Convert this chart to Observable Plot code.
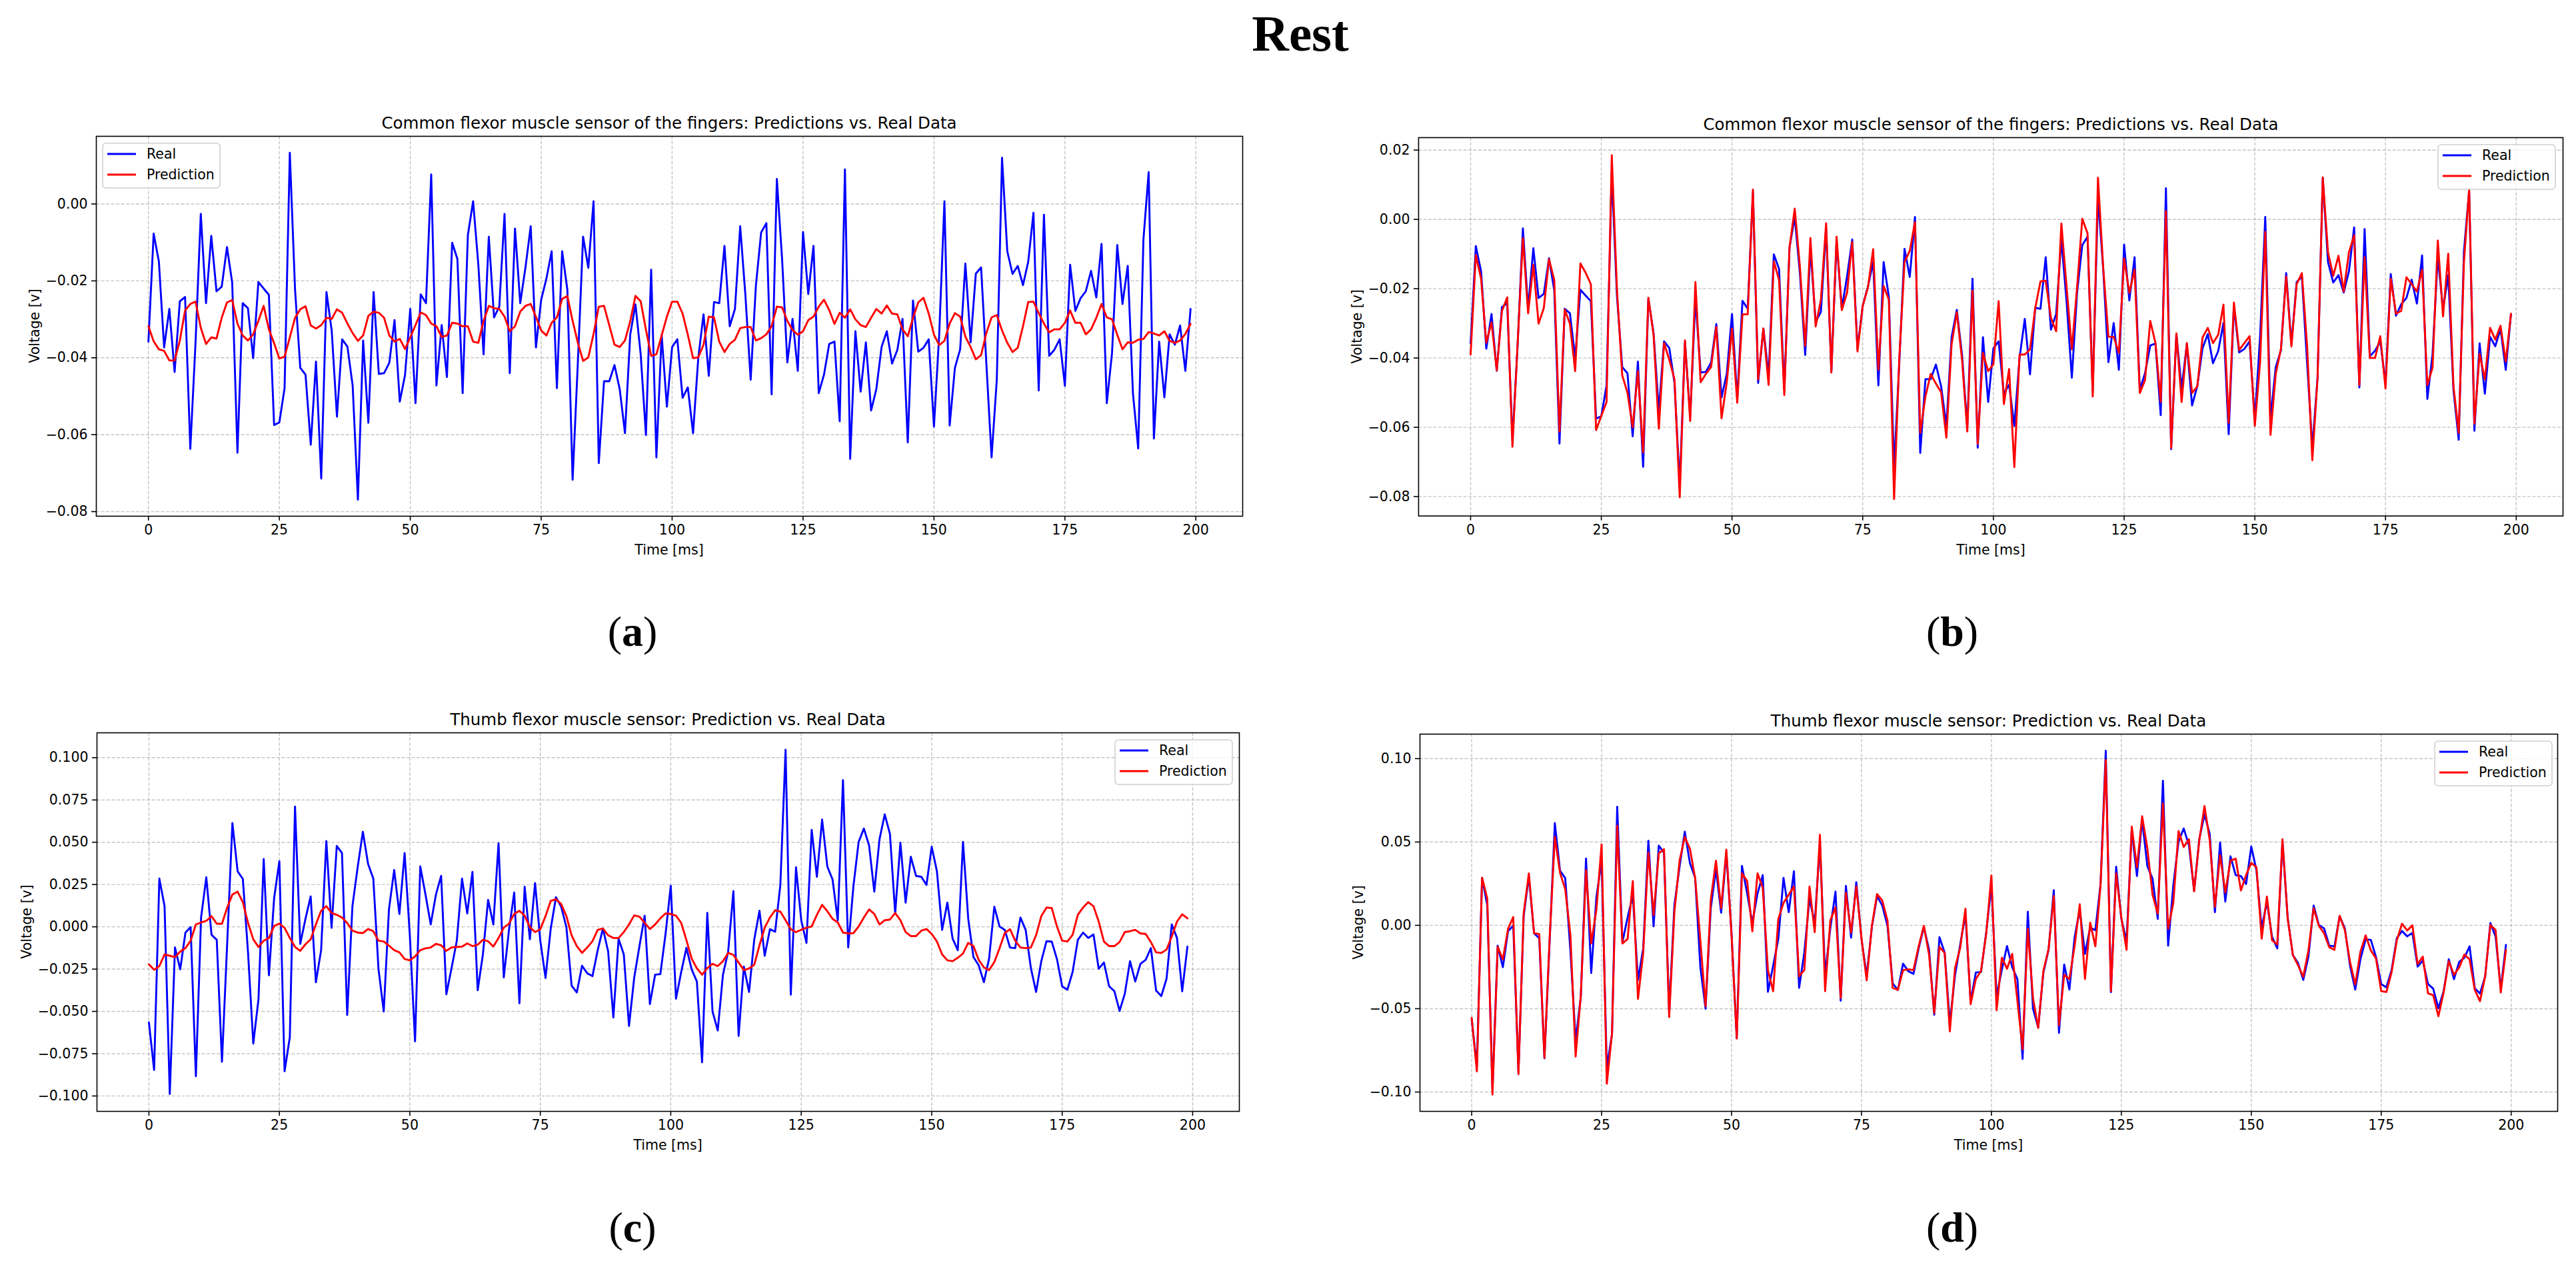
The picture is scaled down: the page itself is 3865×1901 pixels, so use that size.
<!DOCTYPE html>
<html><head><meta charset="utf-8">
<script src="https://cdn.jsdelivr.net/npm/d3@7"></script>
<script src="https://cdn.jsdelivr.net/npm/@observablehq/plot@0.6"></script>
<style>
body{margin:0;background:#fff;}
#root{position:relative;width:3865px;height:1901px;overflow:hidden;background:#fff;}
.panel{position:absolute;}
.panel svg{overflow:visible;}
#overlay{position:absolute;left:0;top:0;pointer-events:none;}
</style></head><body><div id="root"></div>
<script>
// ---- data ----
const xTicks = [0, 25, 50, 75, 100, 125, 150, 175, 200];
const yTicksA = [0.00, -0.02, -0.04, -0.06, -0.08];
const yTicksB = [0.02, 0.00, -0.02, -0.04, -0.06, -0.08];
const yTicksC = [0.100, 0.075, 0.050, 0.025, 0.000, -0.025, -0.050, -0.075, -0.100];
const yTicksD = [0.10, 0.05, 0.00, -0.05, -0.10];
const seriesNames = ["Real", "Prediction"];
const titleFingers = "Common flexor muscle sensor of the fingers: Predictions vs. Real Data";
const titleThumb = "Thumb flexor muscle sensor: Prediction vs. Real Data";

const realA = [
-0.0358,-0.0077,-0.015,-0.0373,-0.0273,-0.0437,-0.0253,-0.0242,-0.0637,-0.036,
-0.0026,-0.0258,-0.0083,-0.0227,-0.0215,-0.0112,-0.0205,-0.0647,-0.0258,-0.0271,
-0.0401,-0.0203,-0.022,-0.0236,-0.0575,-0.0568,-0.0479,0.0133,-0.0223,-0.0426,
-0.0444,-0.0626,-0.041,-0.0714,-0.0229,-0.0329,-0.0553,-0.0352,-0.0371,-0.0472,
-0.0769,-0.0355,-0.0569,-0.0229,-0.0442,-0.044,-0.0413,-0.0302,-0.0514,-0.0445,
-0.0273,-0.0518,-0.0235,-0.0258,0.0077,-0.0472,-0.0315,-0.045,-0.0101,-0.0143,
-0.0492,-0.0081,0.0007,-0.0158,-0.0391,-0.0085,-0.0295,-0.0267,-0.0026,-0.044,
-0.0064,-0.0258,-0.0165,-0.0058,-0.0373,-0.0249,-0.0194,-0.0123,-0.0479,-0.0123,
-0.0223,-0.0717,-0.0413,-0.0085,-0.0166,0.0007,-0.0674,-0.0461,-0.0461,-0.0419,
-0.0482,-0.0596,-0.034,-0.0261,-0.0391,-0.0601,-0.0171,-0.0659,-0.034,-0.0527,
-0.0372,-0.0352,-0.0504,-0.0477,-0.0596,-0.04,-0.0287,-0.0447,-0.0255,-0.0258,
-0.0109,-0.0318,-0.0273,-0.0058,-0.0238,-0.0457,-0.0212,-0.0074,-0.005,-0.0495,
0.0065,-0.0143,-0.0412,-0.0299,-0.0434,-0.0073,-0.0234,-0.0109,-0.0492,-0.0444,
-0.0364,-0.0358,-0.0565,0.009,-0.0663,-0.0331,-0.0488,-0.036,-0.0537,-0.0481,
-0.0372,-0.0331,-0.0415,-0.038,-0.0299,-0.062,-0.0251,-0.0384,-0.0374,-0.0352,
-0.0579,-0.034,0.0007,-0.0576,-0.0426,-0.0378,-0.0155,-0.036,-0.0181,-0.0165,
-0.0413,-0.0659,-0.0457,0.012,-0.0123,-0.0182,-0.0161,-0.0211,-0.015,-0.0023,
-0.0485,-0.0028,-0.0395,-0.0379,-0.0352,-0.0473,-0.0158,-0.0278,-0.0245,-0.0227,
-0.0174,-0.0243,-0.0104,-0.0518,-0.0388,-0.0107,-0.026,-0.0161,-0.0493,-0.0636,
-0.0092,0.0083,-0.061,-0.0358,-0.0503,-0.0339,-0.0366,-0.0316,-0.0434,-0.0273];

const predA = [
-0.0318,-0.0357,-0.0378,-0.0382,-0.0407,-0.0407,-0.0355,-0.0277,-0.026,-0.0254,
-0.0322,-0.0364,-0.0347,-0.035,-0.0296,-0.0256,-0.025,-0.0311,-0.0342,-0.0355,
-0.0339,-0.0304,-0.0265,-0.0326,-0.0362,-0.0402,-0.0397,-0.0347,-0.0296,-0.0274,
-0.0266,-0.0316,-0.0324,-0.0315,-0.0296,-0.0299,-0.0274,-0.0283,-0.0311,-0.0336,
-0.0356,-0.0342,-0.0291,-0.028,-0.0283,-0.0296,-0.0342,-0.0358,-0.0351,-0.0377,
-0.0347,-0.0315,-0.0282,-0.0289,-0.0311,-0.0318,-0.0346,-0.0342,-0.0309,-0.0311,
-0.0318,-0.0318,-0.0358,-0.0361,-0.0304,-0.0265,-0.0271,-0.0273,-0.0293,-0.0331,
-0.0318,-0.028,-0.0265,-0.026,-0.0294,-0.0329,-0.0342,-0.0309,-0.0295,-0.0247,
-0.0239,-0.0304,-0.0361,-0.0408,-0.0399,-0.0338,-0.0267,-0.0265,-0.0315,-0.0366,
-0.0372,-0.0355,-0.0305,-0.0239,-0.0253,-0.0327,-0.0395,-0.0391,-0.0342,-0.0293,
-0.0254,-0.0254,-0.0285,-0.034,-0.0401,-0.0399,-0.0366,-0.0293,-0.0295,-0.0358,
-0.0385,-0.0364,-0.0353,-0.0323,-0.032,-0.032,-0.0355,-0.0349,-0.0339,-0.0318,
-0.0267,-0.0269,-0.0304,-0.0328,-0.034,-0.0331,-0.0302,-0.0293,-0.0267,-0.0249,
-0.0276,-0.0312,-0.0283,-0.0296,-0.0274,-0.03,-0.0315,-0.032,-0.0296,-0.0273,
-0.0285,-0.0264,-0.0285,-0.0287,-0.0326,-0.0344,-0.0296,-0.0256,-0.0244,-0.0285,
-0.034,-0.0367,-0.0356,-0.0311,-0.0284,-0.0293,-0.0345,-0.0372,-0.0404,-0.0393,
-0.0336,-0.0295,-0.0289,-0.0329,-0.0361,-0.0385,-0.0374,-0.0318,-0.0255,-0.0254,
-0.0284,-0.0311,-0.0334,-0.0326,-0.0326,-0.0309,-0.0277,-0.0309,-0.0309,-0.0339,
-0.0326,-0.0296,-0.026,-0.0295,-0.03,-0.034,-0.0378,-0.036,-0.0361,-0.0353,
-0.0351,-0.0333,-0.0337,-0.0342,-0.0331,-0.0356,-0.0361,-0.0355,-0.0338,-0.0312];

const predB = [
-0.039,-0.0103,-0.0171,-0.0356,-0.0297,-0.0436,-0.0264,-0.0225,-0.0656,-0.0357,
-0.0054,-0.0271,-0.0131,-0.0301,-0.0256,-0.0115,-0.0175,-0.0612,-0.026,-0.0301,
-0.0438,-0.0127,-0.0154,-0.0187,-0.0608,-0.0567,-0.0527,0.0185,-0.0204,-0.045,
-0.05,-0.06,-0.0438,-0.0672,-0.0226,-0.0334,-0.0604,-0.0357,-0.0405,-0.0462,
-0.0802,-0.0349,-0.0582,-0.0181,-0.047,-0.0446,-0.0426,-0.031,-0.0574,-0.047,
-0.0315,-0.0529,-0.0274,-0.0274,0.0086,-0.0462,-0.0315,-0.0478,-0.0121,-0.0175,
-0.0507,-0.0081,0.0031,-0.0139,-0.0365,-0.0054,-0.0309,-0.0232,-0.0011,-0.0442,
-0.005,-0.0262,-0.0212,-0.0065,-0.0381,-0.025,-0.0196,-0.0086,-0.0434,-0.0192,
-0.0232,-0.0807,-0.04,-0.0123,-0.0091,-0.0008,-0.0616,-0.0511,-0.0446,-0.0474,
-0.0499,-0.063,-0.0361,-0.0268,-0.0405,-0.0612,-0.0206,-0.0648,-0.0385,-0.0438,
-0.0418,-0.0236,-0.0533,-0.0432,-0.0715,-0.039,-0.039,-0.0375,-0.0256,-0.0179,
-0.0177,-0.0284,-0.0323,-0.0012,-0.0196,-0.0375,-0.0196,0.0002,-0.004,-0.0511,
0.012,-0.0139,-0.0339,-0.0339,-0.0385,-0.0113,-0.0212,-0.0145,-0.0501,-0.0464,
-0.0293,-0.0357,-0.0527,0.0024,-0.066,-0.0329,-0.0527,-0.0357,-0.0501,-0.0482,
-0.0341,-0.0313,-0.0357,-0.0333,-0.0246,-0.0587,-0.024,-0.0377,-0.0357,-0.0337,
-0.0596,-0.0414,-0.0036,-0.0622,-0.0446,-0.0373,-0.0165,-0.0367,-0.0187,-0.0155,
-0.0365,-0.0695,-0.0458,0.0121,-0.0095,-0.0163,-0.0105,-0.0208,-0.0095,-0.0046,
-0.0478,-0.0109,-0.04,-0.04,-0.0337,-0.0488,-0.0171,-0.0272,-0.0264,-0.0167,
-0.0187,-0.0208,-0.0145,-0.0478,-0.0428,-0.0061,-0.028,-0.0099,-0.0482,-0.0616,
-0.0123,0.0087,-0.059,-0.0388,-0.0462,-0.0313,-0.0347,-0.0307,-0.041,-0.0272];

const realC = [
-0.0565,-0.0846,0.0285,0.0122,-0.0988,-0.0122,-0.0251,-0.0034,-0.0002,-0.0883,
0.0055,0.0293,-0.0047,-0.0077,-0.0798,-0.0098,0.0613,0.0328,0.0283,-0.0154,
-0.069,-0.0428,0.0401,-0.0286,0.0171,0.0388,-0.0854,-0.0653,0.0711,-0.0101,
0.0047,0.018,-0.0328,-0.0138,0.0507,-0.0006,0.0478,0.0436,-0.0521,0.0122,
0.0352,0.0562,0.0372,0.0285,-0.0251,-0.05,0.0103,0.0336,0.0076,0.0436,
-0.005,-0.0677,0.0357,0.0191,0.0014,0.0191,0.0301,-0.0399,-0.0243,-0.0082,
0.0285,0.0079,0.0325,-0.0375,-0.0163,0.0159,0.0014,0.0494,-0.0299,-0.0018,
0.0203,-0.0452,0.0237,-0.0074,0.0259,-0.0082,-0.0302,-0.001,0.0175,0.0119,
-0.0002,-0.0348,-0.0388,-0.023,-0.0275,-0.0291,-0.0138,-0.001,-0.0146,-0.0536,
-0.0071,-0.0163,-0.0586,-0.0299,-0.0114,0.0066,-0.0457,-0.0283,-0.028,-0.0042,
0.0243,-0.0425,-0.0267,-0.0124,-0.0251,-0.0323,-0.0801,0.0082,-0.05,-0.0613,
-0.0283,-0.0146,0.0211,-0.0645,-0.0235,-0.0385,-0.0074,0.0095,-0.0171,-0.0014,
-0.0029,0.0248,0.1047,-0.0401,0.0352,0.0039,-0.0095,0.0573,0.0296,0.0634,
0.0356,0.028,0.0039,0.0867,-0.0122,0.024,0.0502,0.0581,0.0481,0.0208,
0.0518,0.0665,0.0549,0.0079,0.0497,0.0143,0.0414,0.0301,0.0296,0.0248,
0.0473,0.0328,-0.0018,0.0143,-0.0069,-0.0138,0.0502,0.0047,-0.0179,-0.0227,
-0.0327,-0.0187,0.0119,0.0002,-0.0018,-0.0122,-0.0126,0.0055,-0.0018,-0.0243,
-0.0385,-0.0203,-0.0085,-0.0087,-0.0191,-0.0352,-0.0372,-0.0267,-0.0077,-0.0034,
-0.0066,-0.0045,-0.0248,-0.0211,-0.0352,-0.038,-0.0497,-0.0396,-0.0203,-0.0323,
-0.0219,-0.0195,-0.0126,-0.0377,-0.0409,-0.0307,0.0014,-0.0066,-0.0381,-0.0117];

const predC = [
-0.0222,-0.0254,-0.0232,-0.0163,-0.0171,-0.0179,-0.0146,-0.0126,-0.0082,0.0014,
0.0026,0.0035,0.0063,0.0018,0.0018,0.0114,0.0191,0.0208,0.0146,0.0023,
-0.0074,-0.0119,-0.0082,-0.0066,0.0005,0.0019,-0.0006,-0.0066,-0.0119,-0.0142,
-0.0103,-0.0074,0.0014,0.0095,0.0122,0.0082,0.0071,0.0055,0.0023,-0.0023,
-0.0034,-0.0037,-0.0013,-0.0026,-0.0082,-0.0087,-0.0111,-0.0138,-0.0151,-0.019,
-0.0198,-0.0175,-0.0138,-0.0127,-0.0122,-0.0101,-0.0109,-0.0142,-0.0122,-0.0119,
-0.0117,-0.0098,-0.0114,-0.0106,-0.0077,-0.0085,-0.0117,-0.0066,-0.0005,0.0019,
0.0076,0.0095,0.0066,-0.0002,-0.0031,-0.0014,0.0063,0.0154,0.0163,0.0135,
0.0063,-0.005,-0.0114,-0.0154,-0.0122,-0.0085,-0.0018,-0.001,-0.005,-0.0066,
-0.0066,-0.0031,0.0014,0.0068,0.006,0.0023,-0.0013,0.0014,0.005,0.0079,
0.0076,0.0066,0.0023,-0.0079,-0.0187,-0.0246,-0.0283,-0.0243,-0.0219,-0.0232,
-0.0203,-0.0154,-0.0166,-0.0211,-0.0256,-0.0246,-0.0224,-0.0109,-0.0005,0.0055,
0.0098,0.009,0.0039,-0.0014,-0.0031,-0.0018,-0.0005,0.0002,0.0071,0.013,
0.0092,0.0047,0.0026,-0.0034,-0.0039,-0.0037,0.0002,0.0055,0.0103,0.0076,
0.0014,0.0039,0.0043,0.0082,0.0039,-0.0031,-0.0055,-0.0055,-0.0023,-0.0013,
-0.0042,-0.0087,-0.0163,-0.0198,-0.0203,-0.0183,-0.0158,-0.0095,-0.0114,-0.0195,
-0.024,-0.0256,-0.0208,-0.0127,-0.0037,-0.0014,-0.0082,-0.0122,-0.0126,-0.0122,
-0.005,0.0063,0.0114,0.0111,0.0002,-0.0082,-0.0087,-0.0047,0.0071,0.0114,
0.0146,0.0122,0.0031,-0.0087,-0.0114,-0.0114,-0.009,-0.0031,-0.0026,-0.0018,
-0.0039,-0.0042,-0.009,-0.0151,-0.0154,-0.0135,-0.0058,0.0031,0.0074,0.005];

const predD = [
-0.0555,-0.0876,0.0286,0.016,-0.1015,-0.0129,-0.0204,-0.002,0.0049,-0.0893,
0.007,0.0312,-0.0047,-0.0052,-0.0795,-0.0077,0.053,0.0315,0.0217,-0.006,
-0.0787,-0.0419,0.0331,-0.0109,0.0095,0.0486,-0.095,-0.0648,0.0597,-0.0109,
-0.0082,0.0266,-0.0441,-0.0166,0.0437,0.0062,0.0432,0.0457,-0.055,0.0078,
0.0388,0.053,0.0459,0.0282,-0.0093,-0.0485,0.0152,0.0388,0.0103,0.0454,
-0.006,-0.0679,0.0312,0.0266,-0.0036,0.0312,0.0225,-0.0269,-0.0395,0.0038,
0.0135,0.0184,0.0233,-0.0305,-0.0269,0.0233,-0.0041,0.0543,-0.0395,0.0029,
0.0108,-0.0436,0.0196,-0.0044,0.0233,-0.0077,-0.033,-0.0003,0.0188,0.0149,
0.0029,-0.0375,-0.0387,-0.0269,-0.0264,-0.0268,-0.0126,-0.0003,-0.0175,-0.0526,
-0.0129,-0.0166,-0.0636,-0.0256,-0.0134,0.01,-0.0473,-0.0322,-0.0273,-0.005,
0.0299,-0.0509,-0.0194,-0.026,-0.0171,-0.0452,-0.0743,-0.002,-0.0436,-0.0615,
-0.0273,-0.0142,0.0176,-0.0599,-0.0297,-0.0322,-0.0126,0.0127,-0.0322,0.0016,
-0.0126,0.0242,0.0992,-0.0395,0.0312,0.0046,-0.0147,0.0592,0.0348,0.0654,
0.0462,0.0184,0.007,0.0731,-0.002,0.0135,0.0565,0.047,0.0516,0.0204,
0.0511,0.0715,0.0511,0.0111,0.0421,0.0197,0.0388,0.04,0.0209,0.0302,
0.0375,0.0348,-0.008,0.0173,-0.009,-0.0114,0.0516,0.0041,-0.0178,-0.024,
-0.0308,-0.015,0.0103,-0.0003,-0.0047,-0.0131,-0.0147,0.0057,-0.0028,-0.022,
-0.0354,-0.0158,-0.006,-0.015,-0.0199,-0.0395,-0.04,-0.0281,-0.009,0.001,
-0.0031,0.0,-0.0232,-0.0188,-0.0408,-0.0419,-0.0545,-0.0403,-0.0215,-0.0297,
-0.0253,-0.0175,-0.0204,-0.0387,-0.0455,-0.0305,0.0002,-0.0028,-0.0403,-0.0147];

// ---- layout ----
const panels = [
  {label:"a", title:titleFingers, real:realA, pred:predA, frame:[144,204,1864,774], y:[-0.0812,0.0176], ticks:yTicksA, fmt:".2f", legend:[154,215], ylabOff:92, sub:[949,969]},
  {label:"b", title:titleFingers, real:realA, pred:predB, frame:[2128,206,3846,774], y:[-0.0856,0.0236], ticks:yTicksB, fmt:".2f", legend:[3658,217], ylabOff:92, sub:[2929,969]},
  {label:"c", title:titleThumb, real:realC, pred:predC, frame:[145,1099,1859,1667], y:[-0.1091,0.1147], ticks:yTicksC, fmt:".3f", legend:[1673,1110], ylabOff:105, sub:[949,1863]},
  {label:"d", title:titleThumb, real:realC, pred:predD, frame:[2130,1101,3837,1667], y:[-0.1116,0.1147], ticks:yTicksD, fmt:".2f", legend:[3653,1112], ylabOff:92, sub:[2929,1863]}
];
const colors = {Real:"#0000ff", Prediction:"#ff0000"};
const FONT = "DejaVu Sans";
const root = document.getElementById("root");
const ml = 130, mr = 20, mt = 10, mb = 60;

panels.forEach(p => {
  const [x0,y0,x1,y1] = p.frame;
  const W = x1 - x0, H = y1 - y0;
  const rows = [];
  p.real.forEach((v,i) => rows.push({t:i, v, s:seriesNames[0]}));
  p.pred.forEach((v,i) => rows.push({t:i, v, s:seriesNames[1]}));
  const grid = {stroke:"#b0b0b0", strokeOpacity:0.75, strokeWidth:1.4, strokeDasharray:"5,2.5"};
  const chart = Plot.plot({
    width: W + ml + mr, height: H + mt + mb,
    marginLeft: ml, marginRight: mr, marginTop: mt, marginBottom: mb,
    style: {fontFamily: FONT, fontSize: "20.5px", color: "#000", background: "transparent", overflow: "visible"},
    x: {domain: [-9.95, 208.95]},
    y: {domain: p.y},
    marks: [
      Plot.gridX(xTicks, grid),
      Plot.gridY(p.ticks, grid),
      Plot.line(rows, {filter: d => d.s === "Real", x: "t", y: "v", stroke: colors.Real, strokeWidth: 2.9}),
      Plot.line(rows, {filter: d => d.s === "Prediction", x: "t", y: "v", stroke: colors.Prediction, strokeWidth: 2.9}),
      Plot.frame({stroke: "#000", strokeWidth: 1.6}),
      Plot.axisX(xTicks, {tickSize: 7, tickPadding: 6, label: null, tickFormat: d3.format("d"), fontSize: 20.5, stroke: "#000", strokeWidth: 1.6}),
      Plot.axisY(p.ticks, {tickSize: 7, tickPadding: 6, label: null, tickFormat: d3.format(p.fmt), fontSize: 20.5, stroke: "#000", strokeWidth: 1.6})
    ]
  });
  const div = document.createElement("div");
  div.className = "panel";
  div.style.left = (x0 - ml) + "px";
  div.style.top = (y0 - mt) + "px";
  div.appendChild(chart);
  root.appendChild(div);
});

// ---- overlay texts: titles, axis labels, legends, subfigure labels ----
const svg = d3.select(root).append("svg").attr("id","overlay")
  .attr("width",3865).attr("height",1901);

svg.append("text").attr("x",1951).attr("y",76).attr("text-anchor","middle")
  .attr("font-family","Liberation Serif").attr("font-weight","bold").attr("font-size",77)
  .text("Rest");

panels.forEach(p => {
  const [x0,y0,x1,y1] = p.frame;
  const cx = (x0 + x1) / 2, cy = (y0 + y1) / 2;
  svg.append("text").attr("x",cx).attr("y",y0 - 11).attr("text-anchor","middle")
    .attr("font-family",FONT).attr("font-size",24.5).attr("fill","#000").text(p.title);
  svg.append("text").attr("x",cx).attr("y",y1 + 58).attr("text-anchor","middle")
    .attr("font-family",FONT).attr("font-size",20.5).attr("fill","#000").text("Time [ms]");
  svg.append("text").attr("transform",`translate(${x0 - p.ylabOff},${cy}) rotate(-90)`)
    .attr("text-anchor","middle").attr("dominant-baseline","central")
    .attr("font-family",FONT).attr("font-size",20.5).attr("fill","#000").text("Voltage [v]");
  // legend
  const [lx,ly] = p.legend;
  const g = svg.append("g");
  g.append("rect").attr("x",lx).attr("y",ly).attr("width",176).attr("height",67).attr("rx",5)
    .attr("fill","#fff").attr("fill-opacity",0.8).attr("stroke","#d0d0d0").attr("stroke-width",1.6);
  seriesNames.forEach((s,k) => {
    const yy = ly + 16 + k * 31;
    g.append("line").attr("x1",lx + 7).attr("x2",lx + 50).attr("y1",yy).attr("y2",yy)
      .attr("stroke",colors[s]).attr("stroke-width",2.9);
    g.append("text").attr("x",lx + 66).attr("y",yy).attr("dominant-baseline","central")
      .attr("font-family",FONT).attr("font-size",20.5).attr("fill","#000").text(s);
  });
  // subfigure label
  const t = svg.append("text").attr("x",p.sub[0]).attr("y",p.sub[1]).attr("text-anchor","middle")
    .attr("font-family","Liberation Serif").attr("font-size",64).attr("fill","#000");
  t.append("tspan").text("(");
  t.append("tspan").attr("font-weight","bold").text(p.label);
  t.append("tspan").text(")");
});
</script>
</body></html>
